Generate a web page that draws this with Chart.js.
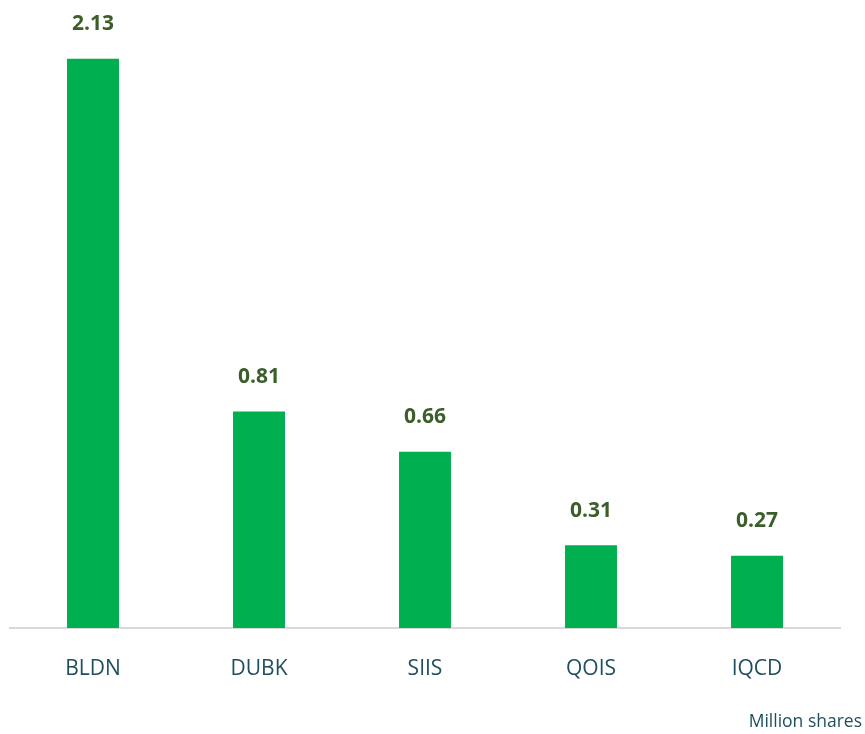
<!DOCTYPE html>
<html>
<head>
<meta charset="utf-8">
<script src="https://cdn.jsdelivr.net/npm/chart.js@4"></script>
<style>
  html, body { margin: 0; padding: 0; background: #fff; }
  #wrap { width: 865px; height: 734px; position: relative; }
</style>
</head>
<body>
<div id="wrap"><canvas id="volChart"></canvas></div>
<script>
// Datos
const categorias = ['BLDN', 'DUBK', 'SIIS', 'QOIS', 'IQCD'];
const valores = [2.13, 0.81, 0.66, 0.31, 0.27];
const unidad = 'Million shares';

// Etiquetas encima de cada barra y la unidad abajo a la derecha
const etiquetasPlugin = {
  id: 'etiquetas',
  afterDatasetsDraw(chart) {
    const ctx = chart.ctx;
    const meta = chart.getDatasetMeta(0);
    ctx.save();
    ctx.font = 'bold 21px "Open Sans", sans-serif';
    ctx.fillStyle = '#3B5E2B';
    ctx.textAlign = 'center';
    ctx.textBaseline = 'bottom';
    meta.data.forEach(function(bar, i) {
      ctx.fillText(valores[i].toFixed(2), bar.x, bar.y - 24);
    });
    ctx.font = '17.5px "Open Sans", sans-serif';
    ctx.fillStyle = '#1F4E5F';
    ctx.textAlign = 'right';
    ctx.textBaseline = 'middle';
    ctx.fillText(unidad, 862, 722);
    ctx.restore();
  }
};

new Chart(document.getElementById('volChart'), {
  type: 'bar',
  data: {
    labels: categorias,
    datasets: [{
      data: valores,
      backgroundColor: '#00B050',
      barPercentage: 0.313,
      categoryPercentage: 1
    }]
  },
  options: {
    responsive: true,
    maintainAspectRatio: false,
    animation: false,
    layout: { padding: { left: 10, right: 25, top: 0, bottom: 0 } },
    scales: {
      x: {
        grid: { display: false, drawTicks: false },
        border: { color: '#D9D9D9', width: 2 },
        ticks: { color: '#1F4E5F', font: { family: 'Open Sans', size: 21 }, padding: 28 },
        afterFit(scale) { scale.height = 106; }
      },
      y: { display: false, min: 0, max: 2.35 }
    },
    plugins: {
      legend: { display: false },
      tooltip: { enabled: false }
    }
  },
  plugins: [etiquetasPlugin]
});
</script>
</body>
</html>
